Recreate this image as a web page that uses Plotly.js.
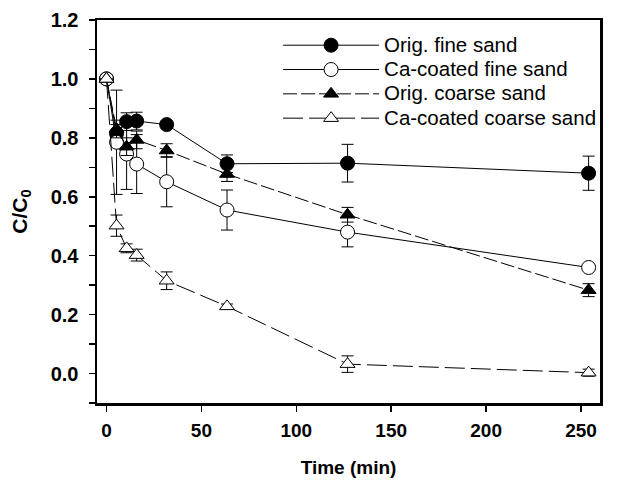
<!DOCTYPE html>
<html>
<head>
<meta charset="utf-8">
<script src="https://cdn.plot.ly/plotly-3.0.1.min.js"></script>
<style>
  html, body { margin: 0; padding: 0; background: #fff; }
  #chart { width: 643px; height: 485px; }
</style>
</head>
<body>
<div id="chart"></div>
<script>
// Time positions (min)
const time = [0, 5.3, 10.6, 15.9, 31.7, 63.5, 127, 254];

const origFine      = [1.0, 0.815, 0.855, 0.857, 0.845, 0.712, 0.714, 0.68];
const origFineErr   = [0, 0.03, 0.03, 0.03, 0.012, 0.03, 0.064, 0.058];
const caFine        = [1.0, 0.785, 0.745, 0.711, 0.651, 0.555, 0.48, 0.36];
const caFineErr     = [0, 0.177, 0.12, 0.1, 0.085, 0.068, 0.05, 0.01];
const origCoarse    = [1.0, 0.83, 0.77, 0.793, 0.757, 0.677, 0.539, 0.283];
const origCoarseErr = [0, 0.03, 0.03, 0.03, 0.023, 0.025, 0.025, 0.022];
const caCoarse      = [1.0, 0.502, 0.425, 0.402, 0.315, 0.228, 0.032, 0.003];
const caCoarseErr   = [0, 0.036, 0.015, 0.02, 0.03, 0.008, 0.028, 0.012];

const names = ['Orig. fine sand', 'Ca-coated fine sand', 'Orig. coarse sand', 'Ca-coated coarse sand'];

const FONT = 'Liberation Sans, Arial, sans-serif';

function mk(name, y, err, symbol, fill, dash, size) {
  return {
    type: 'scatter', mode: 'lines+markers',
    name: '<span style="font-size:20.5px">' + name + '</span>',
    x: time, y: y,
    error_y: { type: 'data', array: err, visible: true, color: '#000', thickness: 1, width: 6 },
    line: { color: '#000', width: 1, dash: dash },
    marker: { symbol: symbol, size: size, color: fill, line: { color: '#000', width: 1 } }
  };
}

const traces = [
  mk(names[0], origFine, origFineErr, 'circle', '#000', 'solid', 14),
  mk(names[1], caFine, caFineErr, 'circle', '#fff', 'solid', 14),
  mk(names[2], origCoarse, origCoarseErr, 'triangle-up', '#000', '14px,4px', 13),
  mk(names[3], caCoarse, caCoarseErr, 'triangle-up', '#fff', '20px,6px', 13)
];

const layout = {
  width: 643, height: 485,
  margin: { l: 97, r: 43, t: 20, b: 82 },
  paper_bgcolor: '#fff', plot_bgcolor: '#fff',
  font: { family: FONT, color: '#000' },
  showlegend: true,
  legend: {
    x: 0.36, y: 0.979, xanchor: 'left', yanchor: 'top',
    bgcolor: 'rgba(0,0,0,0)', borderwidth: 0,
    font: { family: FONT, size: 16.4, color: '#000' },
    itemwidth: 96, tracegroupgap: 0
  },
  xaxis: {
    range: [-5, 260], tickmode: 'linear', tick0: 0, dtick: 50,
    ticks: 'outside', ticklen: 6, tickwidth: 1.5, tickcolor: '#000',
    showline: true, linewidth: 2.5, linecolor: '#000', mirror: true,
    showgrid: false, zeroline: false,
    tickfont: { family: FONT, size: 19, weight: 'bold' },
    ticklabelstandoff: 3,
    title: { text: 'Time (min)', font: { family: FONT, size: 19, weight: 'bold' }, standoff: 21 }
  },
  yaxis: {
    range: [-0.1, 1.2], tickmode: 'linear', tick0: 0, dtick: 0.2, tickformat: '.1f',
    ticks: 'outside', ticklen: 6, tickwidth: 1.5, tickcolor: '#000',
    minor: { dtick: 0.1, tick0: 0, ticks: 'outside', ticklen: 6, tickwidth: 1.5, tickcolor: '#000', showgrid: false },
    showline: true, linewidth: 2.5, linecolor: '#000', mirror: true,
    showgrid: false, zeroline: false,
    tickfont: { family: FONT, size: 20, weight: 'bold' },
    ticklabelstandoff: 6,
    title: { text: 'C/C<sub>0</sub>', font: { family: FONT, size: 21, weight: 'bold' }, standoff: 18 }
  }
};

Plotly.newPlot('chart', traces, layout, { displayModeBar: false, staticPlot: true });
</script>
</body>
</html>
